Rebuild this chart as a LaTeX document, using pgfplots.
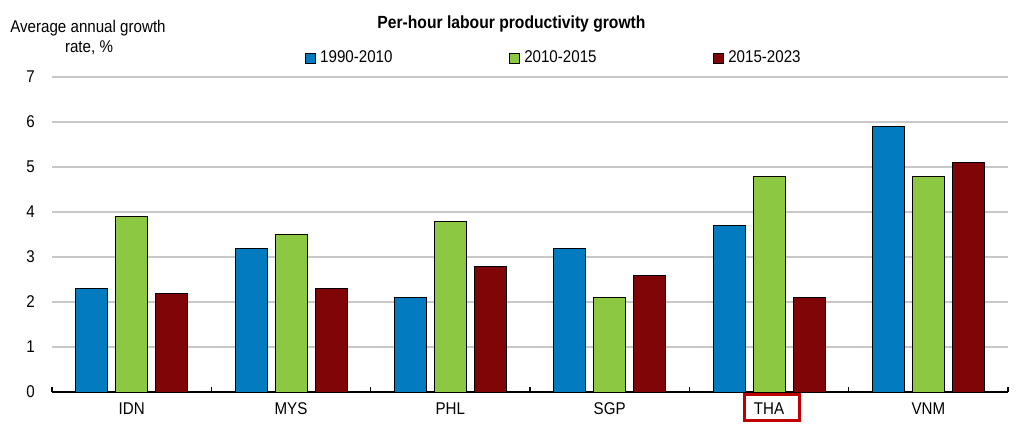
\documentclass[border=0pt]{standalone}
\usepackage{fontspec}
\setmainfont[FakeStretch=0.89]{Liberation Sans}
\usepackage{pgfplots}
\pgfplotsset{compat=1.18}
\definecolor{cblue}{RGB}{3,123,193}
\definecolor{cgreen}{RGB}{140,200,65}
\definecolor{cred}{RGB}{127,5,6}
\definecolor{cgrid}{RGB}{200,200,200}
\definecolor{cbox}{RGB}{192,0,0}
\begin{document}
\begin{tikzpicture}[font=\fontsize{12.75}{15}\selectfont]
\useasboundingbox (-39pt,-27.75pt) rectangle (728.25pt,294pt);
\begin{axis}[
  at={(0,0)}, anchor=south west,
  scale only axis, width=717pt, height=236.25pt,
  xmin=-0.5, xmax=5.5, ymin=0, ymax=7,
  ybar=6pt, bar width=24pt,
  legend image code/.code={\draw[#1,line width=0.75pt] (0pt,-3.75pt) rectangle (7.5pt,3.75pt);},
  /pgf/number format/assume math mode=true,
  axis x line*=bottom, axis y line*=left,
  y axis line style={draw=none},
  x axis line style={black, line width=1pt, -},
  xtick={0,1,2,3,4,5},
  xticklabels={IDN,MYS,PHL,SGP,THA,VNM},
  minor xtick={-0.5,0.5,1.5,2.5,3.5,4.5,5.5},
  major tick length=0pt, minor tick length=3.5pt,
  tick align=inside,
  minor x tick style={black, line width=1pt},
  ytick={0,1,2,3,4,5,6,7},
  ymajorgrids, grid style={cgrid, line width=1.1pt},
  yticklabel style={anchor=east, inner sep=0pt, xshift=-12.75pt},
  xticklabel style={anchor=base, inner sep=0pt, yshift=-16.7pt},
  legend columns=3,
  legend style={at={(0.2646,1.0603)}, anchor=west, draw=none, fill=none,
    inner sep=0pt, column sep=3pt,
    /tikz/every even column/.append style={column sep=87.5pt},
    nodes={inner sep=0pt}},
]
\addplot[fill=cblue, draw=black, line width=0.75pt] coordinates {(0,2.3) (1,3.2) (2,2.1) (3,3.2) (4,3.7) (5,5.9)};
\addplot[fill=cgreen, draw=black, line width=0.75pt] coordinates {(0,3.9) (1,3.5) (2,3.8) (3,2.1) (4,4.8) (5,4.8)};
\addplot[fill=cred, draw=black, line width=0.75pt] coordinates {(0,2.2) (1,2.3) (2,2.8) (3,2.6) (4,2.1) (5,5.1)};
\legend{1990-2010,2010-2015,2015-2023}
\end{axis}
\node[anchor=base, font=\fontsize{13.2}{15}\selectfont\bfseries] at (344.6pt,272.25pt) {Per-hour labour productivity growth};
\node[anchor=base] at (27pt,269.25pt) {Average annual growth};
\node[anchor=base] at (27.75pt,254.25pt) {rate, \%};
\draw[cbox, line width=2.25pt] (519.4pt,-1.9pt) rectangle (560.6pt,-21.4pt);
\end{tikzpicture}
\end{document}
